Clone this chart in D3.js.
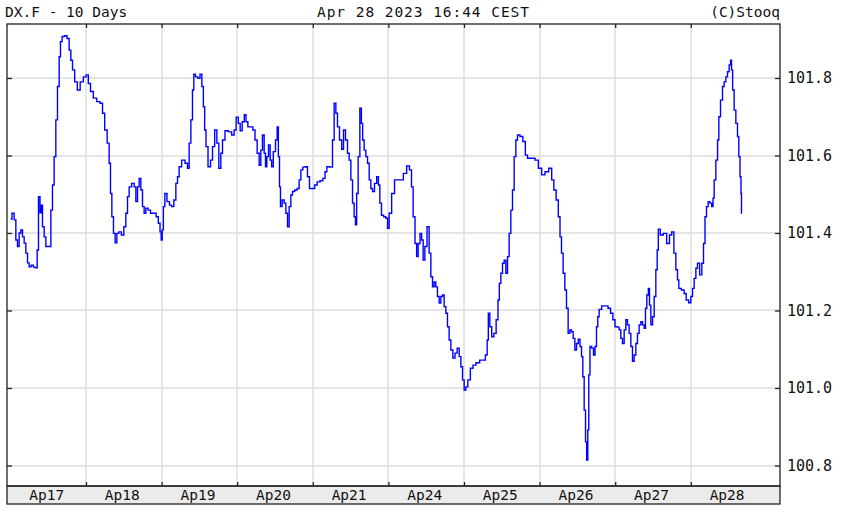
<!DOCTYPE html>
<html><head><meta charset="utf-8">
<script src="https://cdn.jsdelivr.net/npm/d3@7"></script>
<style>
html,body{margin:0;padding:0;background:#fff;}
svg{display:block;}
text{font-family:"DejaVu Sans Mono",monospace;fill:#111;}
</style>
</head><body>
<svg id="chart" width="848" height="512"></svg>
<script>
// ---- data ----
const titleLeft = "DX.F - 10 Days";
const titleCenter = "Apr 28 2023 16:44 CEST";
const titleRight = "(C)Stooq";
const dayLabels = ["Ap17","Ap18","Ap19","Ap20","Ap21","Ap24","Ap25","Ap26","Ap27","Ap28"];
const yTicks = [100.8, 101.0, 101.2, 101.4, 101.6, 101.8];
const yTickLabels = ["100.8","101.0","101.2","101.4","101.6","101.8"];

// time in trading-day units (0 = start of Ap17 session slot)
const times = [
0.004,0.038,0.061,0.083,0.104,0.127,0.149,0.171,0.193,0.216,0.237,0.259,0.290,0.316,0.348,0.361,0.382,0.401,0.414,0.435,0.458,0.480,0.524,0.546,0.567,0.590,0.612,0.634,0.656,0.669,0.700,0.731,0.766,0.788,0.811,0.832,0.868,0.903,0.943,0.987,
1.017,1.044,1.075,1.119,1.163,1.208,1.229,1.265,1.295,1.317,1.331,1.353,1.374,1.397,1.419,1.450,1.485,1.516,1.538,1.560,1.582,1.626,1.648,1.671,1.692,1.714,1.737,1.758,1.780,1.803,1.837,1.869,1.913,1.943,1.970,1.988,
2.001,2.015,2.032,2.054,2.089,2.120,2.147,2.177,2.200,2.221,2.243,2.287,2.332,2.353,2.376,2.398,2.419,2.433,2.464,2.495,2.521,2.544,2.561,2.578,2.597,2.631,2.663,2.684,2.720,2.742,2.772,2.795,2.816,2.861,2.905,2.948,2.971,
3.001,3.028,3.050,3.081,3.107,3.126,3.156,3.192,3.222,3.249,3.279,3.302,3.323,3.345,3.368,3.381,3.403,3.425,3.447,3.464,3.491,3.522,3.536,3.553,3.566,3.579,3.610,3.632,3.655,3.676,3.698,3.721,3.742,3.778,3.808,3.831,3.853,3.884,3.919,3.940,3.972,
4.007,4.042,4.073,4.118,4.148,4.175,4.197,4.250,4.271,4.294,4.316,4.337,4.369,4.396,4.417,4.448,4.470,4.492,4.515,4.536,4.558,4.571,4.589,4.611,4.634,4.651,4.668,4.690,4.713,4.735,4.757,4.779,4.800,4.832,4.859,4.876,4.898,4.919,4.955,4.978,4.999,
5.021,5.065,5.097,5.131,5.176,5.220,5.263,5.295,5.316,5.339,5.365,5.382,5.405,5.431,5.448,5.471,5.494,5.528,5.550,5.573,5.594,5.616,5.638,5.660,5.683,5.705,5.726,5.749,5.771,5.792,5.815,5.837,5.868,5.894,5.925,5.947,5.970,5.991,
6.013,6.036,6.066,6.102,6.136,6.181,6.234,6.265,6.300,6.313,6.331,6.353,6.380,6.410,6.440,6.459,6.476,6.499,6.520,6.542,6.565,6.586,6.608,6.631,6.652,6.675,6.697,6.718,6.763,6.794,6.829,6.851,6.917,6.962,
7.005,7.049,7.094,7.147,7.173,7.204,7.234,7.261,7.279,7.300,7.323,7.345,7.366,7.389,7.411,7.433,7.455,7.478,7.499,7.525,7.544,7.565,7.578,7.601,7.614,7.631,7.644,7.657,7.676,7.702,7.724,7.742,7.763,7.776,7.799,7.843,7.888,7.922,7.954,7.984,
8.011,8.041,8.063,8.086,8.107,8.130,8.152,8.173,8.196,8.218,8.239,8.262,8.284,8.305,8.328,8.351,8.372,8.394,8.407,8.430,8.447,8.460,8.483,8.505,8.526,8.549,8.562,8.579,8.615,8.659,8.702,8.734,8.761,8.792,8.813,8.835,8.848,8.901,8.923,8.954,8.989,
9.012,9.033,9.056,9.078,9.099,9.135,9.157,9.179,9.197,9.218,9.241,9.263,9.290,9.298,9.320,9.343,9.365,9.377,9.409,9.430,9.452,9.475,9.496,9.519,9.532,9.545,9.562,9.585,9.607,9.628,9.642,9.660,9.668,9.673
];
const values = [
101.436,101.451,101.434,101.382,101.365,101.400,101.408,101.390,101.374,101.348,101.323,101.313,101.317,101.312,101.310,101.356,101.494,101.452,101.472,101.416,101.390,101.365,101.365,101.459,101.524,101.597,101.692,101.778,101.855,101.894,101.907,101.909,101.902,101.872,101.846,101.821,101.790,101.769,101.790,101.803,
101.808,101.786,101.765,101.748,101.739,101.735,101.709,101.666,101.632,101.580,101.502,101.442,101.399,101.375,101.399,101.403,101.395,101.416,101.451,101.494,101.519,101.528,101.519,101.481,101.519,101.541,101.511,101.468,101.451,101.464,101.459,101.451,101.451,101.442,101.425,101.403,
101.382,101.408,101.468,101.502,101.481,101.472,101.468,101.485,101.528,101.545,101.571,101.588,101.580,101.567,101.632,101.692,101.769,101.810,101.803,101.799,101.810,101.778,101.726,101.666,101.623,101.571,101.588,101.623,101.666,101.632,101.567,101.606,101.640,101.664,101.661,101.653,101.666,
101.699,101.683,101.664,101.687,101.705,101.687,101.674,101.674,101.666,101.640,101.606,101.575,101.614,101.653,101.606,101.571,101.597,101.627,101.588,101.571,101.610,101.640,101.674,101.597,101.519,101.468,101.485,101.477,101.451,101.416,101.468,101.498,101.507,101.511,101.515,101.537,101.563,101.570,101.571,101.545,101.515,
101.515,101.524,101.532,101.535,101.541,101.558,101.571,101.570,101.640,101.735,101.709,101.674,101.640,101.616,101.666,101.640,101.606,101.588,101.537,101.477,101.442,101.421,101.502,101.597,101.722,101.683,101.640,101.614,101.597,101.580,101.537,101.515,101.507,101.528,101.545,101.524,101.477,101.446,101.442,101.438,101.412,
101.451,101.502,101.537,101.537,101.537,101.554,101.573,101.563,101.519,101.442,101.373,101.339,101.373,101.399,101.382,101.330,101.365,101.416,101.348,101.287,101.261,101.274,101.261,101.236,101.219,101.236,101.240,101.210,101.193,101.158,101.124,101.098,101.077,101.090,101.103,101.081,101.055,101.021,
100.995,101.003,101.021,101.051,101.059,101.065,101.072,101.072,101.085,101.124,101.193,101.158,101.132,101.141,101.176,101.227,101.270,101.296,101.322,101.330,101.296,101.339,101.399,101.459,101.511,101.597,101.640,101.653,101.649,101.636,101.601,101.593,101.593,101.588,
101.567,101.550,101.558,101.567,101.537,101.511,101.485,101.442,101.390,101.348,101.296,101.253,101.206,101.141,101.150,101.145,101.128,101.098,101.115,101.126,101.107,101.081,101.029,100.943,100.861,100.814,100.892,101.034,101.107,101.103,101.085,101.107,101.158,101.184,101.203,101.212,101.212,101.206,101.193,101.176,
101.158,101.157,101.150,101.128,101.115,101.150,101.176,101.163,101.141,101.107,101.069,101.085,101.115,101.141,101.163,101.171,101.163,101.154,101.206,101.240,101.257,101.214,101.163,101.184,101.236,101.305,101.356,101.410,101.395,101.399,101.373,101.395,101.403,101.348,101.305,101.279,101.257,101.253,101.244,101.227,101.220,
101.236,101.257,101.283,101.309,101.322,101.292,101.322,101.373,101.442,101.468,101.481,101.477,101.468,101.490,101.537,101.588,101.640,101.700,101.743,101.778,101.790,101.803,101.816,101.834,101.846,101.821,101.769,101.717,101.683,101.649,101.597,101.545,101.502,101.451
];

// ---- layout ----
const frame = {left: 7, right: 780, top: 24, bottom: 486, stripBottom: 504};
const svg = d3.select("#chart");

const x = d3.scaleLinear().domain([0, dayLabels.length]).range([10.4, 766.4]);
const y = d3.scaleLinear().domain([100.8, 101.8]).range([465.5, 78]);

const dayBounds = d3.range(1, dayLabels.length);

// grid
const grid = svg.append("g").attr("stroke", "#dcdcdc").attr("stroke-width", 1.4);
grid.selectAll("line.v").data(dayBounds).join("line")
  .attr("x1", d => Math.round(x(d))).attr("x2", d => Math.round(x(d)))
  .attr("y1", frame.top).attr("y2", frame.bottom);
grid.selectAll("line.h").data(yTicks).join("line")
  .attr("x1", frame.left).attr("x2", frame.right)
  .attr("y1", d => Math.round(y(d))).attr("y2", d => Math.round(y(d)));

// price line
const pts = times.map((t, i) => [t, values[i]]);
svg.append("path")
  .datum(pts)
  .attr("fill", "none")
  .attr("stroke", "#0000ff")
  .attr("stroke-width", 1.4)
  .attr("stroke-linejoin", "miter")
  .attr("d", d3.line().curve(d3.curveStep).x(d => x(d[0])).y(d => y(d[1])));

// date strip
svg.append("rect")
  .attr("x", frame.left).attr("y", frame.bottom)
  .attr("width", frame.right - frame.left).attr("height", frame.stripBottom - frame.bottom)
  .attr("fill", "#ebebeb").attr("stroke", "#222").attr("stroke-width", 1.3);

svg.append("g").selectAll("text").data(dayLabels).join("text")
  .attr("x", (d, i) => x(i + 0.5) - 1.5)
  .attr("y", 500)
  .attr("text-anchor", "middle")
  .style("font-size", "14.5px")
  .text(d => d);

// frame
svg.append("rect")
  .attr("x", frame.left).attr("y", frame.top)
  .attr("width", frame.right - frame.left).attr("height", frame.bottom - frame.top)
  .attr("fill", "none").attr("stroke", "#222").attr("stroke-width", 1.3);

// tick marks via d3 axes
const axisStyle = g => {
  g.select(".domain").remove();
  g.selectAll(".tick line").attr("stroke", "#222").attr("stroke-width", 1.3);
  g.selectAll(".tick text").attr("fill", "#111").style("font-family", "'DejaVu Sans Mono', monospace").style("font-size", "15px");
};
svg.append("g").attr("transform", `translate(0,${frame.top})`)
  .call(d3.axisTop(x).tickValues(dayBounds).tickSize(-4).tickFormat(""))
  .call(axisStyle);
svg.append("g").attr("transform", `translate(0,${frame.bottom})`)
  .call(d3.axisBottom(x).tickValues(dayBounds).tickSize(-4).tickFormat(""))
  .call(axisStyle);
svg.append("g").attr("transform", `translate(${frame.left},0)`)
  .call(d3.axisLeft(y).tickValues(yTicks).tickSize(-5).tickFormat(""))
  .call(axisStyle);
svg.append("g").attr("transform", `translate(${frame.right},0)`)
  .call(d3.axisRight(y).tickValues(yTicks).tickSize(-5).tickPadding(7)
        .tickFormat((d, i) => yTickLabels[i]))
  .call(axisStyle);

// header
svg.append("text").attr("x", 5).attr("y", 17).style("font-size", "14.5px").text(titleLeft);
svg.append("text").attr("x", 423).attr("y", 17).attr("text-anchor", "middle").style("font-size", "14.5px").attr("textLength", 212).text(titleCenter);
svg.append("text").attr("x", 780).attr("y", 17).attr("text-anchor", "end").style("font-size", "14.5px").text(titleRight);
</script>
</body></html>
